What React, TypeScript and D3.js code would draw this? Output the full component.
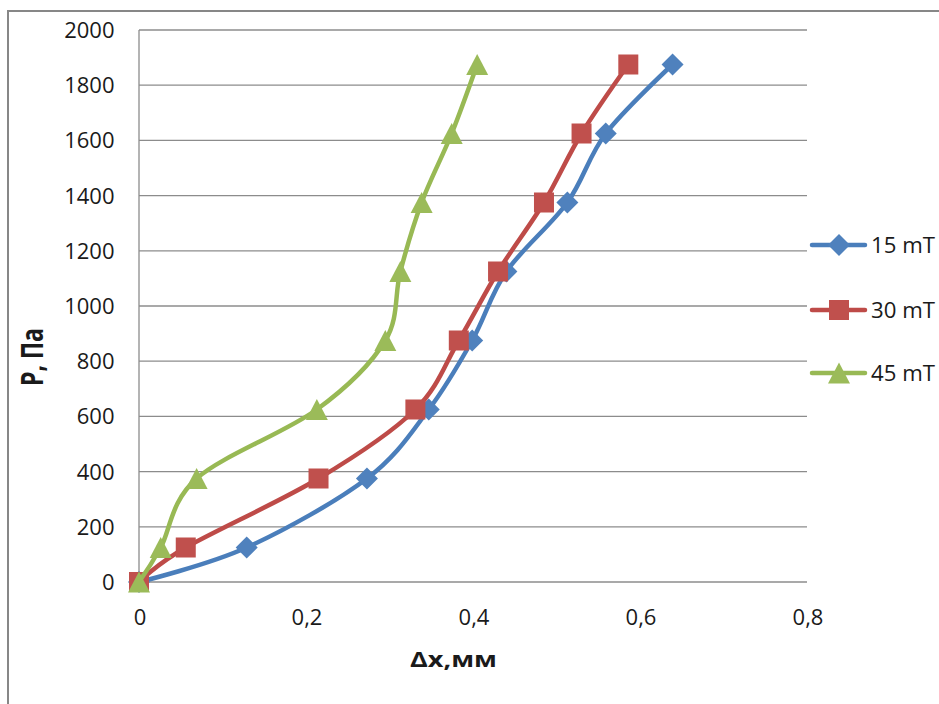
import React from "react";
import * as d3 from "d3";

const pressures = [0, 125, 375, 625, 875, 1125, 1375, 1625, 1875];
const dx15 = [0, 0.129, 0.273, 0.347, 0.399, 0.44, 0.513, 0.559, 0.639];
const dx30 = [0, 0.056, 0.215, 0.331, 0.383, 0.43, 0.485, 0.53, 0.586];
const dx45 = [0, 0.026, 0.069, 0.213, 0.295, 0.313, 0.3385, 0.3745, 0.405];
const seriesNames = ["15 mT", "30 mT", "45 mT"];
const yTicks = [0, 200, 400, 600, 800, 1000, 1200, 1400, 1600, 1800, 2000];
const xTicks = [0, 0.2, 0.4, 0.6, 0.8];

const W = 939;
const H = 704;
const FONT = "'Open Sans', 'Liberation Sans', sans-serif";

const series = [
  { name: seriesNames[0], xs: dx15, line: "#4A7EBB", fill: "#4F81BD", marker: "diamond" },
  { name: seriesNames[1], xs: dx30, line: "#BE4B48", fill: "#C0504D", marker: "square" },
  { name: seriesNames[2], xs: dx45, line: "#98B954", fill: "#9BBB59", marker: "triangle" },
];

function Marker({ type, x, y, fill }: { type: string; x: number; y: number; fill: string }) {
  if (type === "diamond") {
    const r = 11;
    return <path d={`M${x},${y - r}L${x + r},${y}L${x},${y + r}L${x - r},${y}Z`} fill={fill} />;
  }
  if (type === "square") {
    const s = 20;
    return <rect x={x - s / 2} y={y - s / 2} width={s} height={s} fill={fill} />;
  }
  const w = 22;
  const h = 21;
  return <path d={`M${x},${y - h / 2}L${x + w / 2},${y + h / 2}L${x - w / 2},${y + h / 2}Z`} fill={fill} />;
}

export default function App() {
  const x = d3.scaleLinear().domain([0, 0.8]).range([139, 807]);
  const y = d3.scaleLinear().domain([0, 2000]).range([582, 30]);
  const fmt = (v: number) => (v === 0 ? "0" : d3.format(".1f")(v).replace(".", ","));

  const lineGen = d3
    .line<[number, number]>()
    .x((d) => x(d[0]))
    .y((d) => y(d[1]))
    .curve(d3.curveCardinal.tension(0));

  const legendY = [245, 310, 373];

  return (
    <svg
      width={W}
      height={H}
      style={{ position: "absolute", left: 0, top: 0, background: "#fff" }}
      fontFamily={FONT}
    >
      <rect x={0} y={0} width={W} height={H} fill="#fff" />
      <rect x={8} y={11} width={W + 20} height={H + 20} fill="none" stroke="#878787" strokeWidth={2} />

      {yTicks.map((t) => (
        <line key={"g" + t} x1={x(0)} x2={x(0.8)} y1={y(t)} y2={y(t)} stroke="#8c8c8c" strokeWidth={1.3} />
      ))}
      <line x1={x(0)} x2={x(0)} y1={y(2000)} y2={y(0)} stroke="#8c8c8c" strokeWidth={1.3} />

      {yTicks.map((t) => (
        <text key={"yl" + t} x={114.5} y={y(t) + 8} textAnchor="end" fontSize={22} fill="#1a1a1a">
          {String(t)}
        </text>
      ))}
      {xTicks.map((t) => (
        <text key={"xl" + t} x={x(t) + 1} y={625} textAnchor="middle" fontSize={22} fill="#1a1a1a">
          {fmt(t)}
        </text>
      ))}

      <text
        x={453.5}
        y={667}
        textAnchor="middle"
        fontSize={22}
        fontWeight="bold"
        fill="#1a1a1a"
        textLength={87}
        lengthAdjust="spacingAndGlyphs"
      >
        Δx,мм
      </text>
      <text
        transform="translate(43,357) rotate(-90)"
        textAnchor="middle"
        fontSize={30}
        fontWeight="bold"
        fill="#1a1a1a"
        textLength={58}
        lengthAdjust="spacingAndGlyphs"
      >
        P, Па
      </text>

      {series.map((s) => {
        const pts: [number, number][] = s.xs.map((v, i) => [v, pressures[i]]);
        return (
          <g key={s.name}>
            <path d={lineGen(pts) || ""} fill="none" stroke={s.line} strokeWidth={4.5} strokeLinejoin="round" strokeLinecap="round" />
            {pts.map((p, i) => (
              <Marker key={i} type={s.marker} x={x(p[0])} y={y(p[1])} fill={s.fill} />
            ))}
          </g>
        );
      })}

      {series.map((s, i) => (
        <g key={"lg" + s.name}>
          <line x1={812} x2={865} y1={legendY[i]} y2={legendY[i]} stroke={s.line} strokeWidth={4.5} strokeLinecap="round" />
          <Marker type={s.marker} x={839} y={legendY[i]} fill={s.fill} />
          <text x={871} y={legendY[i] + 8} fontSize={22} fill="#1a1a1a" textLength={64} lengthAdjust="spacingAndGlyphs">
            {s.name}
          </text>
        </g>
      ))}
    </svg>
  );
}
